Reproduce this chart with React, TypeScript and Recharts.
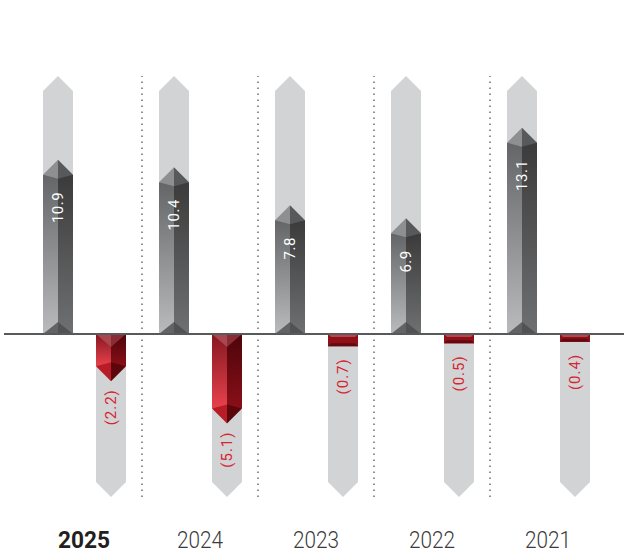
import React from 'react';
import { BarChart, Bar, XAxis, YAxis, ReferenceLine } from 'recharts';

const years = ['2025', '2024', '2023', '2022', '2021'];
const profit = [10.9, 10.4, 7.8, 6.9, 13.1];
const loss = [-2.2, -5.1, -0.7, -0.5, -0.4];

const data = years.map((year, i) => ({ year, profit: profit[i], loss: loss[i] }));

const TRACK = '#d1d3d4';
const TIP = 15;

const ProfitShape = (props: any) => {
  const { x, y, width: w, height: h, background, index, payload } = props;
  const top = Math.min(y, y + h);
  const zero = Math.max(y, y + h);
  const cx = x + w / 2;
  const trackTop = background ? background.y : 76;
  const tip = top - TIP;
  const ly = top + 17;
  return (
    <g>
      <defs>
        <linearGradient id={`pl${index}`} x1="0" y1="0" x2="0" y2="1">
          <stop offset="0%" stopColor="#646566" />
          <stop offset="100%" stopColor="#b9bbbd" />
        </linearGradient>
        <linearGradient id={`pr${index}`} x1="0" y1="0" x2="0" y2="1">
          <stop offset="0%" stopColor="#3b3b3c" />
          <stop offset="100%" stopColor="#6f7071" />
        </linearGradient>
      </defs>
      <polygon
        points={`${x},${trackTop + TIP} ${cx},${trackTop} ${x + w},${trackTop + TIP} ${x + w},${zero} ${x},${zero}`}
        fill={TRACK}
      />
      <rect x={x} y={top} width={w / 2} height={zero - top} fill={`url(#pl${index})`} />
      <rect x={cx} y={top} width={w / 2} height={zero - top} fill={`url(#pr${index})`} />
      <polygon points={`${x},${top} ${cx},${tip} ${cx},${top + 4}`} fill="#8e8f91" />
      <polygon points={`${x + w},${top} ${cx},${tip} ${cx},${top + 4}`} fill="#58595b" />
      <polygon points={`${x},${zero} ${cx},${zero - 12} ${cx},${zero}`} fill="#626364" />
      <polygon points={`${x + w},${zero} ${cx},${zero - 12} ${cx},${zero}`} fill="#515253" />
      <text
        x={cx}
        y={ly}
        transform={`rotate(-90 ${cx} ${ly})`}
        textAnchor="end"
        dominantBaseline="central"
        fill="#ffffff"
        fontFamily="Roboto"
        fontSize={15}
        letterSpacing={0.5}
      >
        {payload.profit.toFixed(1)}
      </text>
    </g>
  );
};

const LossShape = (props: any) => {
  const { x, y, width: w, height: h, background, index, payload } = props;
  const zero = Math.min(y, y + h);
  const bottom = Math.max(y, y + h);
  const cx = x + w / 2;
  const trackBottom = background ? background.y + background.height : 497;
  const big = bottom - zero > 20;
  const ly = big ? bottom + TIP + 8 : bottom + 14;
  const label = `(${Math.abs(payload.loss).toFixed(1)})`;
  return (
    <g>
      <defs>
        <linearGradient id={`ll${index}`} x1="0" y1="0" x2="0" y2="1">
          <stop offset="0%" stopColor="#861720" />
          <stop offset="100%" stopColor="#e8424c" />
        </linearGradient>
        <linearGradient id={`lr${index}`} x1="0" y1="0" x2="0" y2="1">
          <stop offset="0%" stopColor="#4c050a" />
          <stop offset="100%" stopColor="#8a0f18" />
        </linearGradient>
      </defs>
      <polygon
        points={`${x},${zero} ${x + w},${zero} ${x + w},${trackBottom - TIP} ${cx},${trackBottom} ${x},${trackBottom - TIP}`}
        fill={TRACK}
      />
      {big ? (
        <g>
          <rect x={x} y={zero} width={w / 2} height={bottom - zero} fill={`url(#ll${index})`} />
          <rect x={cx} y={zero} width={w / 2} height={bottom - zero} fill={`url(#lr${index})`} />
          <polygon points={`${x},${zero} ${cx},${zero} ${cx},${zero + 13}`} fill="#a9474e" />
          <polygon points={`${x + w},${zero} ${cx},${zero} ${cx},${zero + 13}`} fill="#8a2c33" />
          <polygon points={`${x},${bottom} ${cx},${bottom - 4} ${cx},${bottom + TIP}`} fill="#b81c27" />
          <polygon points={`${x + w},${bottom} ${cx},${bottom - 4} ${cx},${bottom + TIP}`} fill="#5c060c" />
        </g>
      ) : (
        <g>
          <rect x={x} y={zero} width={w} height={bottom - zero + 2} fill="#8e111a" />
          <polygon
            points={`${x},${zero} ${x + w},${zero} ${x + w - 3},${zero + 3} ${x + 3},${zero + 3}`}
            fill="#b9444b"
          />
          <polygon
            points={`${x},${bottom + 2} ${x + w},${bottom + 2} ${x + w - 3},${bottom - 1} ${x + 3},${bottom - 1}`}
            fill="#650910"
          />
        </g>
      )}
      <text
        x={cx}
        y={ly}
        transform={`rotate(-90 ${cx} ${ly})`}
        textAnchor="end"
        dominantBaseline="central"
        fill="#d7242f"
        fontFamily="Roboto"
        fontSize={15}
        letterSpacing={1}
      >
        {label}
      </text>
    </g>
  );
};

const YearTick = (props: any) => {
  const { x, y, payload } = props;
  const latest = payload.value === years[0];
  return (
    <text
      x={x}
      y={y + 51}
      textAnchor="middle"
      fontFamily="Roboto"
      fontSize={24}
      fontWeight={latest ? 700 : 300}
      fill={latest ? '#231f20' : '#3a3a3c'}
      textLength={latest ? 52 : 46}
      lengthAdjust="spacingAndGlyphs"
    >
      {payload.value}
    </text>
  );
};

export default function App() {
  return (
    <div style={{ position: 'absolute', left: 0, top: 0, background: '#fff' }}>
      <BarChart
        width={624}
        height={554}
        data={data}
        margin={{ top: 76, right: 0, bottom: 0, left: 4 }}
        barSize={30}
        barGap={23}
      >
        <XAxis
          dataKey="year"
          axisLine={false}
          tickLine={false}
          tickSize={0}
          tickMargin={0}
          height={57}
          padding={{ left: 22, right: 18 }}
          tick={<YearTick />}
          interval={0}
        />
        <YAxis hide domain={[-11.16, 17.67]} allowDataOverflow />
        {years.slice(1).map((yr) => (
          <ReferenceLine
            key={yr}
            x={yr}
            position="start"
            stroke="#6d6e71"
            strokeWidth={1.5}
            strokeDasharray="1.5 4.5"
          />
        ))}
        <ReferenceLine y={0} stroke="#58595b" strokeWidth={2} />
        <Bar dataKey="profit" shape={<ProfitShape />} isAnimationActive={false} />
        <Bar dataKey="loss" shape={<LossShape />} isAnimationActive={false} />
      </BarChart>
    </div>
  );
}
